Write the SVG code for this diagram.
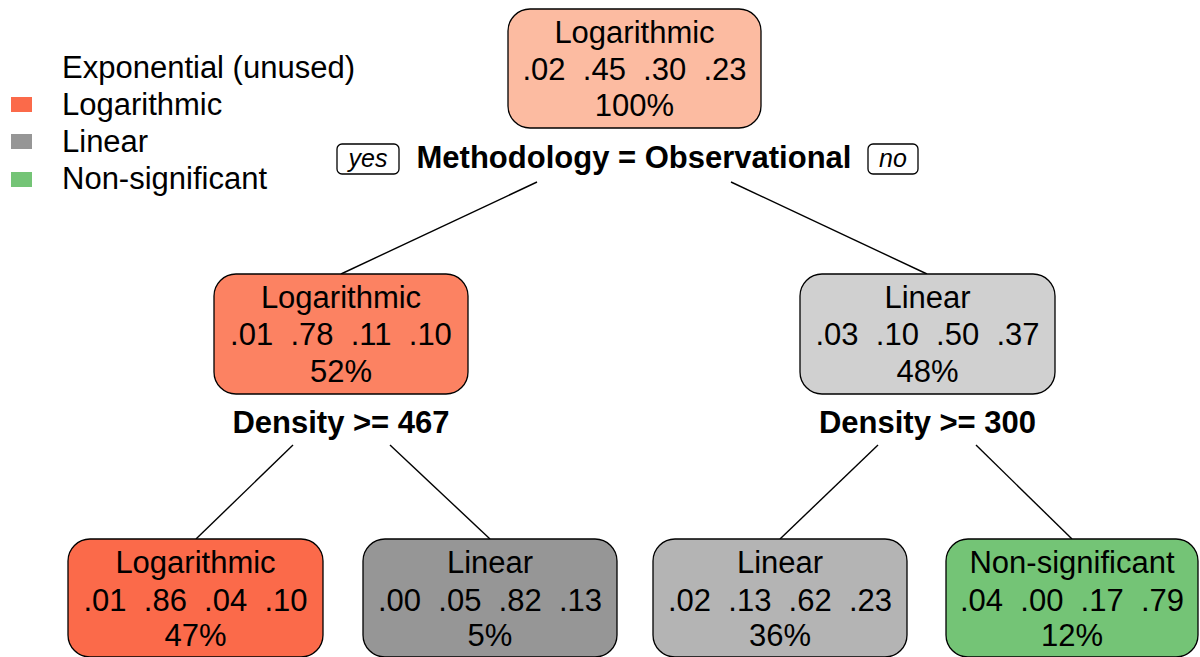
<svg xmlns="http://www.w3.org/2000/svg" width="1200" height="657" viewBox="0 0 1200 657">
  <style>
    text { font-family: "Liberation Sans", Arial, sans-serif; font-size: 31px; fill: #000; }
    .c { text-anchor: middle; }
    .v { white-space: pre; }
    .split { font-weight: bold; text-anchor: middle; }
    .node rect { stroke: #000; stroke-width: 1.3; }
    .lab rect { fill: #fff; stroke: #000; stroke-width: 1.3; }
    .lab text { font-style: italic; font-size: 25px; text-anchor: middle; }
    #connectors line { stroke: #000; stroke-width: 1.4; }
  </style>

  <!-- legend -->
  <g id="legend">
    <text x="62" y="78">Exponential (unused)</text>
    <rect x="11" y="97" width="21" height="15" fill="#fb6a4a"/>
    <text x="62" y="115">Logarithmic</text>
    <rect x="11" y="134" width="21" height="15" fill="#969696"/>
    <text x="62" y="152">Linear</text>
    <rect x="11" y="172" width="21" height="15" fill="#74c476"/>
    <text x="62" y="189">Non-significant</text>
  </g>

  <!-- branches -->
  <g id="connectors">
    <line x1="537" y1="182" x2="341" y2="274"/>
    <line x1="731" y1="182" x2="927" y2="274"/>
    <line x1="293" y1="445" x2="196" y2="539"/>
    <line x1="390" y1="445" x2="490" y2="539"/>
    <line x1="878" y1="445" x2="780" y2="539"/>
    <line x1="976" y1="445" x2="1072" y2="539"/>
  </g>

  <!-- root -->
  <g id="node1" class="node">
    <rect x="508" y="9" width="253" height="119" rx="22" fill="#fcbba1"/>
    <text class="c" x="634.5" y="43">Logarithmic</text>
    <text class="c v" x="634.5" y="80">.02  .45  .30  .23</text>
    <text class="c" x="634.5" y="116">100%</text>
  </g>
  <g id="split1">
    <g class="lab">
      <rect x="337" y="144" width="62" height="30" rx="5"/>
      <text x="368" y="167">yes</text>
      <rect x="868" y="144" width="50" height="30" rx="5"/>
      <text x="893" y="167">no</text>
    </g>
    <text class="split" x="634" y="168">Methodology = Observational</text>
  </g>

  <!-- second level -->
  <g id="node2" class="node">
    <rect x="214" y="274" width="254" height="120" rx="22" fill="#fc8262"/>
    <text class="c" x="341" y="308">Logarithmic</text>
    <text class="c v" x="341" y="345">.01  .78  .11  .10</text>
    <text class="c" x="341" y="382">52%</text>
    <text class="split" x="341" y="433">Density &gt;= 467</text>
  </g>
  <g id="node3" class="node">
    <rect x="800" y="274" width="255" height="120" rx="22" fill="#d0d0d0"/>
    <text class="c" x="927.5" y="308">Linear</text>
    <text class="c v" x="927.5" y="345">.03  .10  .50  .37</text>
    <text class="c" x="927.5" y="382">48%</text>
    <text class="split" x="927.5" y="433">Density &gt;= 300</text>
  </g>

  <!-- leaves -->
  <g id="node4" class="node">
    <rect x="68" y="539" width="255" height="118" rx="22" fill="#fb6a4a"/>
    <text class="c" x="195.5" y="573">Logarithmic</text>
    <text class="c v" x="195.5" y="611">.01  .86  .04  .10</text>
    <text class="c" x="195.5" y="646">47%</text>
  </g>
  <g id="node5" class="node">
    <rect x="363" y="539" width="254" height="118" rx="22" fill="#969696"/>
    <text class="c" x="490" y="573">Linear</text>
    <text class="c v" x="490" y="611">.00  .05  .82  .13</text>
    <text class="c" x="490" y="646">5%</text>
  </g>
  <g id="node6" class="node">
    <rect x="653" y="539" width="254" height="118" rx="22" fill="#b4b4b4"/>
    <text class="c" x="780" y="573">Linear</text>
    <text class="c v" x="780" y="611">.02  .13  .62  .23</text>
    <text class="c" x="780" y="646">36%</text>
  </g>
  <g id="node7" class="node">
    <rect x="946" y="539" width="252" height="118" rx="22" fill="#74c476"/>
    <text class="c" x="1072" y="573">Non-significant</text>
    <text class="c v" x="1072" y="611">.04  .00  .17  .79</text>
    <text class="c" x="1072" y="646">12%</text>
  </g>
</svg>
